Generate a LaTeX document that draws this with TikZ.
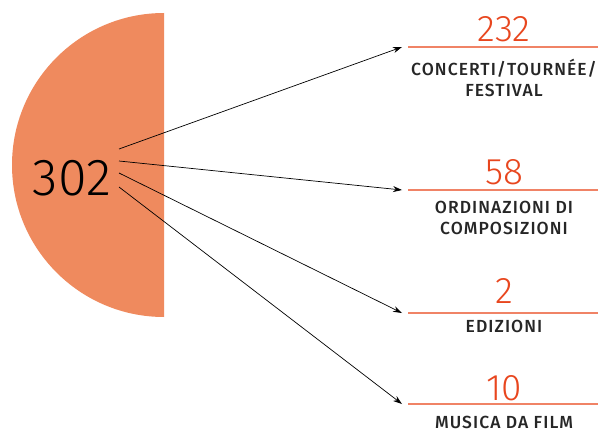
\documentclass[tikz,border=0pt]{standalone}
\usepackage{fontspec}
\setmainfont{Fira Sans}
\newfontfamily\numfont{Fira Sans}[UprightFont=* Light]
\newfontfamily\labfont{Fira Sans}[UprightFont=* Medium, LetterSpace=6]
\usetikzlibrary{arrows.meta}
\definecolor{semi}{HTML}{EF8A5E}
\definecolor{numcol}{HTML}{E8461E}
\definecolor{rulecol}{HTML}{F08366}
\tikzset{
  num/.style={font=\numfont\fontsize{37}{37}\selectfont, text=numcol, inner sep=0pt, anchor=base},
  lab/.style={font=\labfont\fontsize{17.5}{21}\selectfont, text=black!85, inner sep=0pt, align=center, anchor=north},
  rule/.style={rulecol, line width=1.2pt},
  conn/.style={-{Stealth[length=9pt,width=6pt]}, line width=0.7pt},
}
\begin{document}
\begin{tikzpicture}[x=1pt,y=-1pt]
\useasboundingbox (0,0) rectangle (602,433);
\fill[semi] (164,13) arc[start angle=270, end angle=90, radius=152] -- cycle;
\node[font=\numfont\fontsize{52}{52}\selectfont, inner sep=0pt, anchor=base] (tot) at (72,195) {302};
\coordinate (s1) at (119,149);
\coordinate (s2) at (119,161);
\coordinate (s3) at (119,173);
\coordinate (s4) at (119,187);
% targets
\coordinate (t1) at (402,47);
\coordinate (t2) at (402,190);
\coordinate (t3) at (402,313);
\coordinate (t4) at (402,404);
\draw[conn] (s1) -- (t1);
\draw[conn] (s2) -- (t2);
\draw[conn] (s3) -- (t3);
\draw[conn] (s4) -- (t4);
% rules
\coordinate (r1a) at (408,47); \coordinate (r1b) at (598,47);
\coordinate (r2a) at (408,190); \coordinate (r2b) at (598,190);
\coordinate (r3a) at (408,313); \coordinate (r3b) at (598,313);
\coordinate (r4a) at (408,404); \coordinate (r4b) at (598,404);
\draw[rule] (r1a) -- (r1b);
\draw[rule] (r2a) -- (r2b);
\draw[rule] (r3a) -- (r3b);
\draw[rule] (r4a) -- (r4b);
\node[num] (n1) at (504,42) {232};
\node[num] (n2) at (504,184) {58};
\node[num] (n3) at (504,303) {2};
\node[num] (n4) at (504,400) {10};
\node[lab] (l1) at (504,59) {CONCERTI/TOURNÉE/\\FESTIVAL};
\node[lab] (l2) at (504,201) {ORDINAZIONI DI\\COMPOSIZIONI};
\node[lab] (l3) at (504,320) {EDIZIONI};
\node[lab] (l4) at (504,416) {MUSICA DA FILM};
\end{tikzpicture}
\end{document}
